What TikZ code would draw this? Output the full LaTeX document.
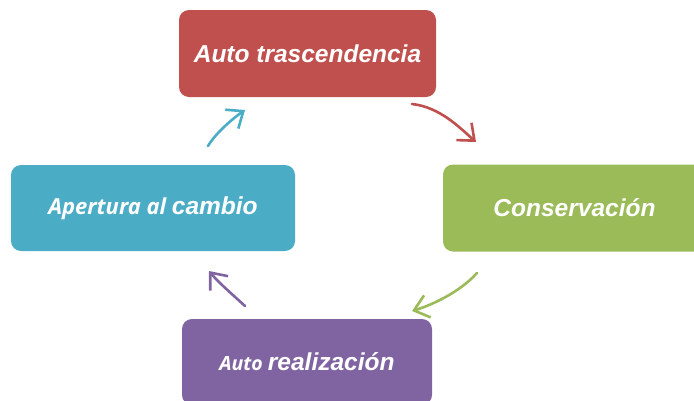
\documentclass[tikz,border=0pt]{standalone}
\usepackage{fontspec}
\setmainfont{Liberation Sans}
\newfontfamily\osans{Open Sans}
\usetikzlibrary{arrows.meta}
\definecolor{cred}{HTML}{C0504D}
\definecolor{cgreen}{HTML}{9BBB59}
\definecolor{cblue}{HTML}{4BACC6}
\definecolor{cpurple}{HTML}{8064A2}
\tikzset{
  box/.style={rectangle, rounded corners=10pt, inner sep=0pt, text=white, font=\bfseries\itshape},
  arr/.style={line width=2.6pt, line cap=round, -{Straight Barb[length=14pt,width=23pt,line width=2.6pt]}},
}
\begin{document}
\begin{tikzpicture}[x=1pt,y=-1pt]
\useasboundingbox (0,0) rectangle (694,400);
\node[box, fill=cred, minimum width=257pt, minimum height=87pt] (top) at (307.5,53.5)
  {\fontsize{24.5}{28}\selectfont Auto trascendencia};
\node[box, fill=cgreen, minimum width=263pt, minimum height=87pt] (right) at (574.5,208)
  {\fontsize{24.5}{28}\selectfont Conservación};
\node[box, fill=cblue, minimum width=284pt, minimum height=86pt] (left) at (153,208)
  {{\osans\fontsize{22}{26}\selectfont Apertura al\ }\fontsize{24.5}{28}\selectfont cambio};
\node[box, fill=cpurple, minimum width=250pt, minimum height=86pt] (bottom) at (307,362)
  {{\osans\fontsize{19.5}{24}\selectfont Auto\ }\fontsize{24.5}{28}\selectfont realización};
\coordinate (r1) at (412,104); \coordinate (r2) at (476,142);
\coordinate (g1) at (477,273); \coordinate (g2) at (412,311);
\coordinate (p1) at (245,306); \coordinate (p2) at (209,271);
\coordinate (b1) at (208,146); \coordinate (b2) at (245,110);
\draw[arr, cred] (r1) .. controls (440,107) and (460,128) .. (r2);
\draw[arr, cgreen] (g1) .. controls (460,292) and (432,305) .. (g2);
\draw[arr, cpurple] (p1) .. controls (233,295) and (218,282) .. (p2);
\draw[arr, cblue] (b1) .. controls (215,134) and (232,119) .. (b2);
\end{tikzpicture}
\end{document}
